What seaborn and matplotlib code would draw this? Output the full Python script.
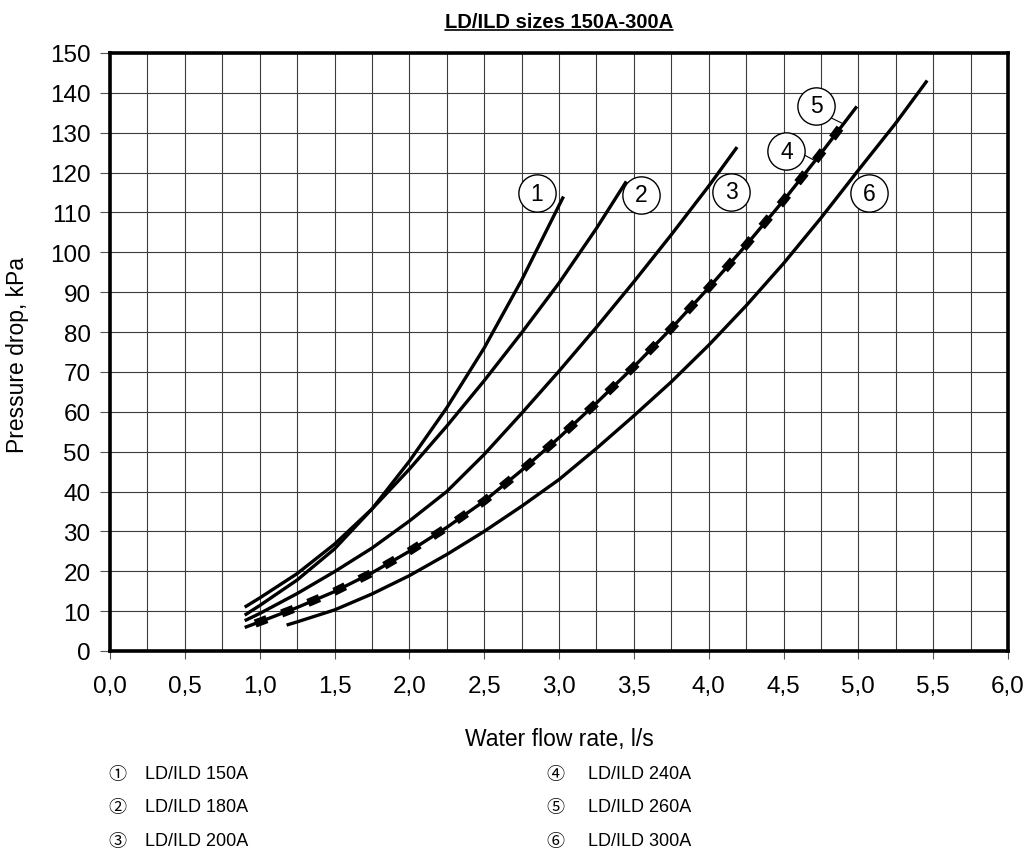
import matplotlib
matplotlib.use("Agg")
import matplotlib.pyplot as plt
import numpy as np
import pandas as pd
import seaborn as sns
from matplotlib.ticker import MultipleLocator, FuncFormatter
from matplotlib.lines import Line2D

# Pressure drop curves, water flow rate [l/s] vs pressure drop [kPa]
models = ["LD/ILD 150A", "LD/ILD 180A", "LD/ILD 200A", "LD/ILD 240A", "LD/ILD 260A", "LD/ILD 300A"]
markers = ["1", "2", "3", "4", "5", "6"]
circled = ["\u2460", "\u2461", "\u2462", "\u2463", "\u2464", "\u2465"]

flow_150 = [0.90, 1.00, 1.25, 1.50, 1.75, 2.00, 2.25, 2.50, 2.75, 3.03]
dp_150 = [9.0, 11.4, 17.8, 25.6, 35.6, 47.6, 61.0, 76.0, 93.0, 114.0]

flow_180 = [0.90, 1.00, 1.25, 1.50, 1.75, 2.00, 2.25, 2.50, 2.75, 3.00, 3.25, 3.45]
dp_180 = [11.0, 13.3, 19.4, 26.8, 35.6, 45.6, 56.4, 67.8, 79.8, 92.3, 106.0, 117.8]

flow_200 = [0.90, 1.00, 1.25, 1.50, 1.75, 2.00, 2.25, 2.50, 2.75, 3.00, 3.25, 3.50, 3.75, 4.00, 4.19]
dp_200 = [7.6, 9.4, 14.4, 19.9, 25.8, 32.6, 40.0, 49.3, 59.6, 70.2, 81.2, 92.6, 104.4, 116.6, 126.4]

flow_240 = [0.90, 1.00, 1.25, 1.50, 1.75, 2.00, 2.25, 2.50, 2.75, 3.00, 3.25, 3.50, 3.75, 4.00, 4.25, 4.50, 4.75, 4.99]
dp_240 = [5.9, 7.3, 10.9, 14.9, 19.6, 25.0, 31.0, 37.6, 45.3, 53.5, 62.2, 71.3, 80.9, 91.1, 101.8, 113.0, 124.8, 136.6]

flow_260 = [0.97, 1.00, 1.25, 1.50, 1.75, 2.00, 2.25, 2.50, 2.75, 3.00, 3.25, 3.50, 3.75, 4.00, 4.25, 4.50, 4.75, 4.92]
dp_260 = [6.9, 7.3, 10.9, 14.9, 19.6, 25.0, 31.0, 37.6, 45.3, 53.5, 62.2, 71.3, 80.9, 91.1, 101.8, 113.0, 124.8, 133.3]

flow_300 = [1.18, 1.25, 1.50, 1.75, 2.00, 2.25, 2.50, 2.75, 3.00, 3.25, 3.50, 3.75, 4.00, 4.25, 4.50, 4.75, 5.00, 5.25, 5.46]
dp_300 = [6.5, 7.3, 10.3, 14.3, 18.9, 24.2, 30.0, 36.3, 43.0, 50.8, 59.0, 67.5, 76.7, 86.6, 97.2, 108.6, 120.6, 132.4, 143.1]

x_ticks = [0.0, 0.5, 1.0, 1.5, 2.0, 2.5, 3.0, 3.5, 4.0, 4.5, 5.0, 5.5, 6.0]
y_ticks = [0, 10, 20, 30, 40, 50, 60, 70, 80, 90, 100, 110, 120, 130, 140, 150]

series = [(flow_150, dp_150), (flow_180, dp_180), (flow_200, dp_200),
          (flow_240, dp_240), (flow_260, dp_260), (flow_300, dp_300)]
frames = []
for name, (q, dp) in zip(models, series):
    frames.append(pd.DataFrame({"flow": q, "dp": dp, "model": name}))
df = pd.concat(frames, ignore_index=True)

# curve tag positions (flow, dp) and leader lines for the overlapping pair
tag_pos = [(2.85, 114.8), (3.55, 114.4), (4.15, 115.2), (4.52, 125.3), (4.72, 136.8), (5.07, 114.8)]
leaders = {3: ((4.64, 124.4), (4.70, 123.2)), 4: ((4.82, 133.7), (4.89, 132.4))}

sns.set_theme(style="ticks")
plt.rcParams["font.family"] = ["Liberation Sans", "DejaVu Sans"]
plt.rcParams["text.color"] = "black"
plt.rcParams["axes.labelcolor"] = "black"
plt.rcParams["xtick.color"] = "black"
plt.rcParams["ytick.color"] = "black"

W, H = 1032, 853
fig = plt.figure(figsize=(W / 100, H / 100), dpi=100)
ax = fig.add_axes([110 / W, (H - 652) / H, 898 / W, 598 / H])

for name in models:
    sub = df[df["model"] == name]
    if name == "LD/ILD 260A":
        sns.lineplot(data=sub, x="flow", y="dp", ax=ax, color="black", estimator=None,
                     sort=False, linewidth=6.0, linestyle=(0, (1.5, 1.9)),
                     dash_capstyle="butt", zorder=4)
    else:
        sns.lineplot(data=sub, x="flow", y="dp", ax=ax, color="black", estimator=None,
                     sort=False, linewidth=2.4, solid_capstyle="butt",
                     solid_joinstyle="round", zorder=3)

# numbered circular tags
tx = [p[0] for p in tag_pos]
ty = [p[1] for p in tag_pos]
for i, (lx, ly) in leaders.items():
    ax.plot([lx[0], ly[0]], [lx[1], ly[1]], color="black", lw=0.8, zorder=5)
ax.scatter(tx, ty, s=720, facecolor="white", edgecolor="black", linewidth=1.0, zorder=6)
for (px, py), m in zip(tag_pos, markers):
    ax.text(px, py, m, ha="center", va="center", fontsize=16.5, zorder=7)

ax.set_xlim(0, 6)
ax.set_ylim(0, 150)
ax.set_xticks(x_ticks)
ax.set_yticks(y_ticks)
ax.xaxis.set_minor_locator(MultipleLocator(0.25))
ax.xaxis.set_major_formatter(FuncFormatter(lambda v, _: f"{v:.1f}".replace(".", ",")))
ax.set_axisbelow(True)
ax.grid(which="both", color="#3c3c3c", linewidth=0.8)
ax.tick_params(axis="x", which="major", direction="out", length=6, width=0.8,
               color="#555555", pad=11, labelsize=17.5)
ax.tick_params(axis="x", which="minor", length=0)
ax.tick_params(axis="y", direction="out", length=7, width=0.8, color="#555555",
               pad=7, labelsize=17.5)
for s in ax.spines.values():
    s.set_linewidth(2.6)
    s.set_color("black")
    s.set_visible(True)
ax.set_xlabel("")
ax.set_ylabel("")

fig.text(559 / W, 1 - 740 / H, "Water flow rate, l/s", ha="center", va="center", fontsize=16.5)
fig.text(18 / W, 1 - 355 / H, "Pressure drop, kPa", ha="center", va="center",
         rotation=90, fontsize=16.5)

title = fig.text(559 / W, 1 - 28 / H, "LD/ILD sizes 150A-300A", ha="center",
                 va="baseline", fontsize=14.5, fontweight="bold")
fig.canvas.draw()
bb = title.get_window_extent()
uy = 1 - 30.5 / H
fig.add_artist(Line2D([bb.x0 / W, bb.x1 / W], [uy, uy], color="black", lw=1.2,
                      transform=fig.transFigure))

# key below the chart
rows_y = [775, 808, 842]
cols = [(117, 145), (555, 588)]
for i, name in enumerate(models):
    cx, tx0 = cols[i // 3]
    yy = 1 - rows_y[i % 3] / H
    fig.text(cx / W, yy, circled[i], ha="center", va="center", fontsize=13,
             family=["Noto Sans CJK JP", "DejaVu Sans"])
    fig.text(tx0 / W, yy, name, ha="left", va="center", fontsize=13)

fig.savefig("out.png", dpi=100, facecolor="white")
